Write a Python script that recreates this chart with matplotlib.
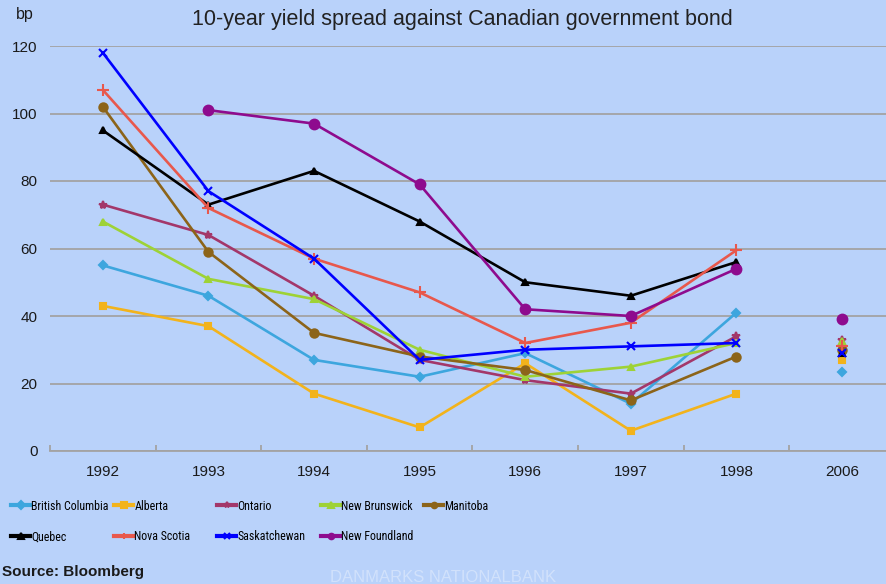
import numpy as np
import matplotlib.pyplot as plt
from matplotlib import font_manager
from matplotlib.lines import Line2D

# look for a condensed family for the legend, as in the reference
installed = font_manager.fontManager.ttflist
condensed = [f.name for f in installed
             if f.stretch in ('condensed', 'semi-condensed', 'extra-condensed', 550, 600, 650)
             or 'Narrow' in f.name or 'Condensed' in f.name]
preferred = ['Liberation Sans Narrow', 'Roboto Condensed', 'Open Sans Condensed',
             'DejaVu Sans Condensed', 'Noto Sans Condensed']
narrow = next((p for p in preferred if p in condensed), None)
if narrow is None and condensed:
    narrow = condensed[0]
if narrow is None:
    narrow, legend_size = 'Liberation Sans', 7.6
else:
    legend_size = 8.6
plt.rcParams['font.family'] = ['Liberation Sans', 'DejaVu Sans']

years = ['1992', '1993', '1994', '1995', '1996', '1997', '1998', '2006']

names = ['British Columbia', 'Alberta', 'Ontario', 'New Brunswick', 'Manitoba',
         'Quebec', 'Nova Scotia', 'Saskatchewan', 'New Foundland']

british_columbia = [55, 46, 27, 22, 29, 14, 41]
alberta = [43, 37, 17, 7, 26, 6, 17]
ontario = [73, 64, 46, 27, 21, 17, 34]
new_brunswick = [68, 51, 45, 30, 22, 25, 32]
manitoba = [102, 59, 35, 28, 24, 15, 28]
quebec = [95, 73, 83, 68, 50, 46, 56]
nova_scotia = [107, 72, 57, 47, 32, 38, 59.5]
saskatchewan = [118, 77, 57, 27, 30, 31, 32]
new_foundland = [np.nan, 101, 97, 79, 42, 40, 54]

# values for 2006 (drawn without connecting line)
y2006 = [23.5, 27, 33, 32.5, 30, 29, 31, 29, 39]

series = [british_columbia, alberta, ontario, new_brunswick, manitoba,
          quebec, nova_scotia, saskatchewan, new_foundland]
colors = ['#3DA6DE', '#F2B31C', '#A3376A', '#9ED236', '#8C6419',
          '#000000', '#E8584C', '#0000FF', '#8E0B8E']
markers = ['D', 's', '*', '^', 'o', '^', '+', 'x', 'o']
msizes = [4.5, 4.5, 6, 5, 6, 4, 8, 6, 7]

bg = '#B9D2FA'
fig = plt.figure(figsize=(8.86, 5.84), dpi=100, facecolor=bg)
ax = fig.add_axes([50 / 886, (584 - 451) / 584, 1 - 50 / 886 + 0.01, (451 - 46) / 584])
ax.set_facecolor(bg)

x = np.arange(7)
handles = []
for vals, c, m, ms in zip(series, colors, markers, msizes):
    h, = ax.plot(x, vals, color=c, lw=1.9, marker=m, ms=ms, mew=1.5, zorder=3)
    handles.append(h)
for i, (c, m, ms) in enumerate(zip(colors, markers, msizes)):
    ax.plot([7], [y2006[i]], color=c, marker=m, ms=ms, mew=1.5, ls='none', zorder=3)

ax.set_xlim(-0.5, 7.5)
ax.set_ylim(0, 120)
ax.set_yticks(np.arange(0, 121, 20))
ax.yaxis.grid(True, color='#A3A3A3', lw=1.3)
ax.set_axisbelow(True)
ax.set_xticks(np.arange(8))
ax.set_xticklabels(years)
ax.set_xticks(np.arange(-0.5, 8, 1), minor=True)
ax.tick_params(axis='x', which='major', length=0, pad=10, labelsize=11, labelcolor='#1a1a1a')
ax.tick_params(axis='x', which='minor', length=4, direction='in', color='#A3A3A3', width=1.3)
ax.tick_params(axis='y', length=0, pad=9, labelsize=11, labelcolor='#1a1a1a')
for s in ['top', 'right', 'left']:
    ax.spines[s].set_visible(False)
ax.spines['bottom'].set_color('#A3A3A3')
ax.spines['bottom'].set_linewidth(1.3)

fig.text(462 / 886, 1 - 19 / 584, '10-year yield spread against Canadian government bond',
         ha='center', va='center', fontsize=15.5, color='#222222')
fig.text(25 / 886, 1 - 15 / 584, 'bp', ha='center', va='center', fontsize=11.5, color='#1a1a1a')

# legend, laid out in fixed columns
col_x = [11, 114, 217, 321, 424]
row_y = [506, 537]
for i, (h, name) in enumerate(zip(handles, names)):
    r, col = divmod(i, 5)
    h2 = Line2D([], [], color=h.get_color(), lw=3, marker=h.get_marker(), ms=4, mew=1.5)
    fig.legend(handles=[h2], labels=[name], loc='center left',
               bbox_to_anchor=(col_x[col] / 886, 1 - row_y[r] / 584),
               frameon=False, handlelength=1.6, handletextpad=0.1,
               borderpad=0, borderaxespad=0,
               prop={'family': narrow, 'size': legend_size})

fig.text(2 / 886, 1 - 572 / 584, 'Source: Bloomberg', ha='left', va='center',
         fontsize=11, fontweight='bold', color='#1a1a1a')
fig.text(0.5, 1 - 578 / 584, 'DANMARKS NATIONALBANK', ha='center', va='center',
         fontsize=12, color='white', alpha=0.35)

fig.savefig('out.png', dpi=100, facecolor=bg)
